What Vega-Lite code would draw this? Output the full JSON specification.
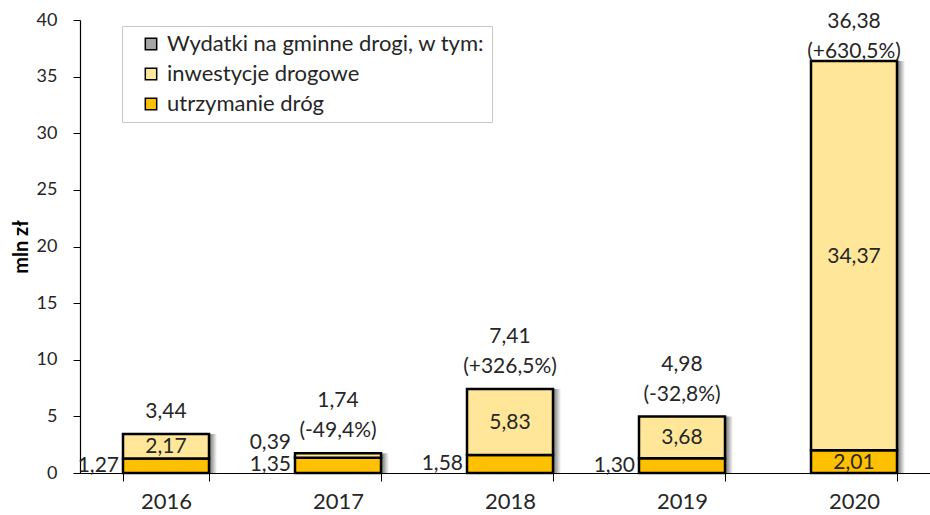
{
  "$schema": "https://vega.github.io/schema/vega-lite/v6.json",
  "width": 850,
  "height": 453,
  "autosize": {"type": "none"},
  "padding": {"left": 80, "top": 20, "right": 0, "bottom": 42},
  "background": "white",
  "config": {
    "font": "Lato",
    "view": {"stroke": null},
    "axis": {"domainColor": "black", "tickColor": "black", "labelColor": "#262626", "titleColor": "#000000", "grid": false, "domainWidth": 1.2},
    "axisX": {"labelAngle": 0, "labelFontSize": 22, "tickSize": 8, "labelPadding": 10},
    "axisY": {"tickSize": 7, "labelPadding": 16, "labelFontSize": 18, "titleFontSize": 20, "titleFontWeight": "bold", "titlePadding": 5}
  },
  "datasets": {
    "segments": [
      {"year": "2016", "series": "utrzymanie dróg", "value": 1.27, "label": "1,27", "place": "left"},
      {"year": "2016", "series": "inwestycje drogowe", "value": 2.17, "label": "2,17", "place": "inside"},
      {"year": "2017", "series": "utrzymanie dróg", "value": 1.35, "label": "1,35", "place": "left"},
      {"year": "2017", "series": "inwestycje drogowe", "value": 0.39, "label": "0,39", "place": "leftTop"},
      {"year": "2018", "series": "utrzymanie dróg", "value": 1.58, "label": "1,58", "place": "left"},
      {"year": "2018", "series": "inwestycje drogowe", "value": 5.83, "label": "5,83", "place": "inside"},
      {"year": "2019", "series": "utrzymanie dróg", "value": 1.30, "label": "1,30", "place": "left"},
      {"year": "2019", "series": "inwestycje drogowe", "value": 3.68, "label": "3,68", "place": "inside"},
      {"year": "2020", "series": "utrzymanie dróg", "value": 2.01, "label": "2,01", "place": "inside"},
      {"year": "2020", "series": "inwestycje drogowe", "value": 34.37, "label": "34,37", "place": "inside"}
    ],
    "totals": [
      {"year": "2016", "total": 3.44, "label": "3,44"},
      {"year": "2017", "total": 1.74, "label": "1,74\n(-49,4%)"},
      {"year": "2018", "total": 7.41, "label": "7,41\n(+326,5%)"},
      {"year": "2019", "total": 4.98, "label": "4,98\n(-32,8%)"},
      {"year": "2020", "total": 36.38, "label": "36,38\n(+630,5%)"}
    ]
  },
  "encoding": {
    "x": {
      "field": "year", "type": "nominal", "title": null,
      "scale": {"range": [0, 860], "paddingInner": 0.5, "paddingOuter": 0.25},
      "axis": {"tickBand": "extent"}
    }
  },
  "layer": [
    {
      "data": {"name": "totals"},
      "mark": {
        "type": "bar", "xOffset": 8, "x2Offset": 8,
        "fill": {"gradient": "linear", "x1": 0.88, "x2": 1, "y1": 0, "y2": 0,
          "stops": [{"offset": 0, "color": "#404040"}, {"offset": 1, "color": "#ffffff"}]}
      },
      "encoding": {
        "y": {"field": "total", "type": "quantitative", "title": "mln zł",
          "scale": {"domain": [0, 40], "nice": false},
          "axis": {"values": [0, 5, 10, 15, 20, 25, 30, 35, 40]}
        }
      }
    },
    {
      "data": {"name": "segments"},
      "transform": [
        {"stack": "value", "groupby": ["year"], "sort": [{"field": "series", "order": "descending"}], "as": ["v0", "v1"]}
      ],
      "mark": {"type": "bar", "stroke": "black", "strokeWidth": 2.5},
      "encoding": {
        "y": {"field": "v0", "type": "quantitative", "title": "mln zł"},
        "y2": {"field": "v1"},
        "color": {
          "field": "series", "type": "nominal",
          "scale": {"domain": ["Wydatki na gminne drogi, w tym:", "inwestycje drogowe", "utrzymanie dróg"], "range": ["#a6a6a6", "#ffe699", "#ffc000"]},
          "legend": {
            "orient": "none", "legendX": 42, "legendY": 6, "title": null,
            "fillColor": "white", "strokeColor": "#c8c8c8", "padding": 7, "rowPadding": 8,
            "symbolType": "square", "symbolSize": 130, "symbolStrokeColor": "black", "symbolStrokeWidth": 1.5,
            "symbolOffset": 11, "labelOffset": 5, "labelFontSize": 22, "labelColor": "#262626", "labelLimit": 500
          }
        }
      }
    },
    {
      "data": {"name": "segments"},
      "transform": [
        {"stack": "value", "groupby": ["year"], "sort": [{"field": "series", "order": "descending"}], "as": ["v0", "v1"]},
        {"filter": "datum.place === 'inside'"},
        {"fold": ["v0", "v1"], "as": ["edge", "pos"]}
      ],
      "mark": {"type": "text", "baseline": "middle", "fontSize": 21, "color": "#262626", "dy": 1},
      "encoding": {
        "y": {"field": "pos", "aggregate": "mean", "type": "quantitative", "stack": null, "title": "mln zł"},
        "detail": {"field": "series"},
        "text": {"field": "label"}
      }
    },
    {
      "data": {"name": "segments"},
      "transform": [
        {"stack": "value", "groupby": ["year"], "sort": [{"field": "series", "order": "descending"}], "as": ["v0", "v1"]},
        {"filter": "datum.place === 'left'"},
        {"fold": ["v0", "v1"], "as": ["edge", "pos"]}
      ],
      "mark": {"type": "text", "baseline": "middle", "align": "right", "dx": -47, "fontSize": 21, "color": "#262626"},
      "encoding": {
        "y": {"field": "pos", "aggregate": "mean", "type": "quantitative", "stack": null, "title": "mln zł"},
        "detail": {"field": "series"},
        "text": {"field": "label"}
      }
    },
    {
      "data": {"name": "segments"},
      "transform": [
        {"stack": "value", "groupby": ["year"], "sort": [{"field": "series", "order": "descending"}], "as": ["v0", "v1"]},
        {"filter": "datum.place === 'leftTop'"}
      ],
      "mark": {"type": "text", "baseline": "alphabetic", "align": "right", "dx": -47, "dy": -4, "fontSize": 21, "color": "#262626"},
      "encoding": {
        "y": {"field": "v1", "type": "quantitative", "title": "mln zł"},
        "text": {"field": "label"}
      }
    },
    {
      "data": {"name": "totals"},
      "transform": [{"filter": "datum.total < 30 && indexof(datum.label, '(') < 0"}],
      "mark": {"type": "text", "baseline": "bottom", "lineBreak": "\n", "lineHeight": 30, "dy": -12, "fontSize": 21, "color": "#262626"},
      "encoding": {
        "y": {"field": "total", "type": "quantitative", "title": "mln zł"},
        "text": {"field": "label"}
      }
    },
    {
      "data": {"name": "totals"},
      "transform": [{"filter": "datum.total < 30 && indexof(datum.label, '(') >= 0"}],
      "mark": {"type": "text", "baseline": "bottom", "lineBreak": "\n", "lineHeight": 30, "dy": -42, "fontSize": 21, "color": "#262626"},
      "encoding": {
        "y": {"field": "total", "type": "quantitative", "title": "mln zł"},
        "text": {"field": "label"}
      }
    },
    {
      "data": {"name": "totals"},
      "transform": [{"filter": "datum.total >= 30"}],
      "mark": {"type": "text", "baseline": "top", "lineBreak": "\n", "lineHeight": 30, "dy": -9, "fontSize": 21, "color": "#262626"},
      "encoding": {
        "y": {"datum": 40, "type": "quantitative", "title": "mln zł"},
        "text": {"field": "label"}
      }
    }
  ]
}
